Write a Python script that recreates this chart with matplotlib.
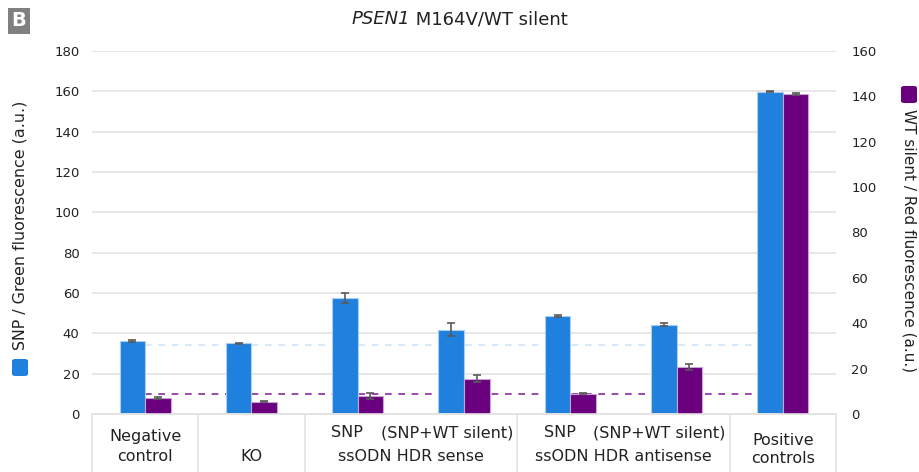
import matplotlib
matplotlib.use("Agg")
import matplotlib.pyplot as plt
from matplotlib.patches import FancyBboxPatch
import numpy as np

# data
groups = ["Negative control", "KO", "SNP sense", "SNP+WT sense",
          "SNP antisense", "SNP+WT antisense", "Positive controls"]
snp_green = [36.2, 35.0, 57.6, 41.8, 48.5, 44.2, 159.8]        # left axis
snp_err = [0.5, 0.4, 2.4, 3.3, 0.4, 0.8, 0.3]
wt_red = [7.0, 5.5, 8.0, 15.5, 9.0, 20.7, 141.0]               # right axis
wt_err = [0.3, 0.3, 1.2, 1.6, 0.2, 1.5, 0.5]
snp_threshold = 34.2
wt_threshold = 8.8

left_ticks = list(range(0, 181, 20))
right_ticks = list(range(0, 161, 20))

BLUE = "#1f80dd"
BLUE_EDGE = "#a9d0f3"
PURPLE = "#6b007f"
PURPLE_EDGE = "#c9a3d3"
GRID = "#e3e3e3"
TXT = "#222222"

plt.rcParams.update({
    "font.family": ["DejaVu Sans"],
    "font.size": 10,
})

fig = plt.figure(figsize=(9.2, 4.72), dpi=100)
ax = fig.add_axes([0.1, 0.1229, 0.8087, 0.7691])
ax2 = ax.twinx()

x = np.arange(len(groups))
w = 0.24

ax.set_ylim(0, 180)
ax2.set_ylim(0, 160)
ax.set_xlim(-0.5, 6.5)

# gridlines
ax.set_yticks(left_ticks)
ax.grid(axis="y", color=GRID, lw=1.2, zorder=0)
ax.set_axisbelow(True)

# thresholds (purple one converted into left-axis units so it sits behind bars)
ax.plot([x[0], x[-1]], [snp_threshold] * 2, ls=(0, (4, 4)), color="#cfe4f7", lw=1.2, zorder=1)
ax.plot([x[0], x[-1]], [wt_threshold * 180 / 160] * 2, ls=(0, (4, 4)), color="#8a2a9e", lw=1.2, zorder=1)

ax.bar(x - w / 2, snp_green, w, color=BLUE, edgecolor=BLUE_EDGE, lw=0.8, zorder=2)
ax.errorbar(x - w / 2, snp_green, yerr=snp_err, fmt="none", ecolor="#5a5a5a",
            elinewidth=1.2, capsize=3.2, capthick=1.2, zorder=3)
ax2.bar(x + w / 2, wt_red, w, color=PURPLE, edgecolor=PURPLE_EDGE, lw=0.8, zorder=2)
ax2.errorbar(x + w / 2, wt_red, yerr=wt_err, fmt="none", ecolor="#5a5a5a",
             elinewidth=1.2, capsize=3.2, capthick=1.2, zorder=3)

# axes cosmetics
for a in (ax, ax2):
    for s in ("top", "left", "right"):
        a.spines[s].set_visible(False)
    a.spines["bottom"].set_color(GRID)
    a.spines["bottom"].set_linewidth(1.2)
ax.set_xticks([])
ax.tick_params(axis="y", length=0, pad=9, labelsize=9.5, labelcolor=TXT)
ax2.set_yticks(right_ticks)
ax2.tick_params(axis="y", length=0, pad=11, labelsize=9.5, labelcolor=TXT)

# category table under the axis
trans = ax.get_xaxis_transform()
for xd in [-0.5, 0.5, 1.5, 3.5, 5.5, 6.5]:
    ax.plot([xd, xd], [0, -0.2], transform=trans, color=GRID, lw=1.2, clip_on=False)

lbl = dict(transform=trans, ha="center", va="baseline", fontsize=11.5, color=TXT)
ax.text(0, -0.0744, "Negative", **lbl)
ax.text(0, -0.1295, "control", **lbl)
ax.text(1, -0.1295, "KO", **lbl)
ax.text(1.9, -0.0634, "SNP", **lbl)
ax.text(2.84, -0.0634, "(SNP+WT silent)", **lbl)
ax.text(2.5, -0.1295, "ssODN HDR sense", **lbl)
ax.text(3.9, -0.0634, "SNP", **lbl)
ax.text(4.835, -0.0634, "(SNP+WT silent)", **lbl)
ax.text(4.5, -0.1295, "ssODN HDR antisense", **lbl)
ax.text(6, -0.0854, "Positive", **lbl)
ax.text(6, -0.135, "controls", **lbl)

# title: italic gene name followed by upright text, centred as a whole
ty = 1 - 19 / 472
t1 = fig.text(0, ty, "PSEN1", style="italic", ha="left", va="center", fontsize=13, color=TXT)
t2 = fig.text(0, ty, " M164V/WT silent", ha="left", va="center", fontsize=13, color=TXT)
fig.canvas.draw()
r = fig.canvas.get_renderer()
w1 = t1.get_window_extent(r).width / fig.bbox.width
w2 = t2.get_window_extent(r).width / fig.bbox.width
x0 = 0.5 - (w1 + w2) / 2
t1.set_x(x0)
t2.set_x(x0 + w1)

# panel letter
fig.text(19 / 920, 1 - 21 / 472, "B", ha="center", va="center", fontsize=14,
         fontweight="bold", color="white",
         bbox=dict(boxstyle="square,pad=0.2", fc="#808080", ec="none"))

# axis labels with colour keys
fig.text(20 / 920, 1 - 225 / 472, "SNP / Green fluorescence (a.u.)", rotation=90,
         ha="center", va="center", fontsize=11.4, color=TXT)
fig.patches.append(FancyBboxPatch((12 / 920, 1 - 376 / 472), 16 / 920, 17 / 472,
                                  boxstyle="round,pad=0,rounding_size=0.004",
                                  transform=fig.transFigure, fc=BLUE, ec="none"))
fig.text(909 / 920, 1 - 241 / 472, "WT silent / Red fluorescence (a.u.)", rotation=270,
         ha="center", va="center", fontsize=11.0, color=TXT)
fig.patches.append(FancyBboxPatch((901 / 920, 1 - 103 / 472), 16 / 920, 17 / 472,
                                  boxstyle="round,pad=0,rounding_size=0.004",
                                  transform=fig.transFigure, fc=PURPLE, ec="none"))

fig.savefig("out.png", dpi=100, facecolor="white")
